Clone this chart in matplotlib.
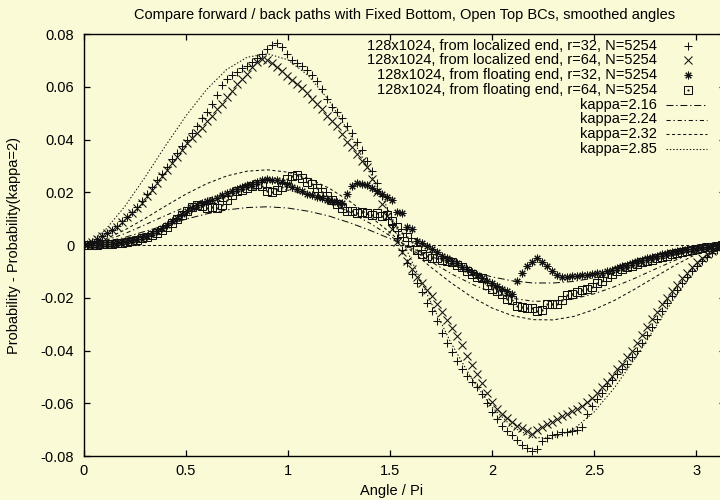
import numpy as np
import matplotlib
matplotlib.use('Agg')
import matplotlib.pyplot as plt
from matplotlib.lines import Line2D
from matplotlib.ticker import FuncFormatter

plt.rcParams['font.family'] = ['Liberation Sans', 'DejaVu Sans']
plt.rcParams['axes.unicode_minus'] = False
plt.rcParams['lines.scale_dashes'] = False

# 128 angle bins, values below in units of 1e-3
angle = (np.arange(128) + 0.5) * np.pi / 128

loc_r32 = [
    0.3, 1.2, 2.4, 3.4, 4.6, 5.8, 7.2, 9.0,
    10.8, 12.5, 14.5, 16.8, 19.5, 22, 24.5, 27,
    29.5, 32.5, 35, 37.5, 40, 42.5, 45, 48,
    50.5, 53.5, 57, 60.5, 63, 64.5, 65.5, 67,
    68, 69.5, 71, 72.5, 74.5, 76, 76.5, 75,
    72.5, 70, 69, 68, 66.5, 64.5, 62, 59,
    55.5, 52.5, 50.5, 48, 45, 42.5, 39, 36,
    32, 28, 23.5, 18.5, 13, 8, 2.5, -2,
    -7, -11, -14.5, -18, -22, -25, -29, -33.5,
    -37, -40.5, -44, -47, -49.5, -52, -54, -56.5,
    -60, -63.5, -66, -68.5, -70.5, -72, -74, -76,
    -77, -78, -77.5, -74.5, -73, -72, -71.5, -71,
    -71, -70.5, -70, -69, -64, -61, -58.5, -56,
    -53.5, -51, -49, -47, -45, -42.5, -40, -37,
    -34, -31, -28, -25, -22, -19.5, -17, -14.5,
    -12, -10, -8, -6, -4.5, -3, -1.8, -0.6,
]
loc_r64 = [
    0.3, 1.2, 2.3, 3.3, 4.4, 5.6, 7.0, 8.8,
    10.5, 12.2, 14.0, 16.0, 18.5, 21, 23.5, 26,
    28.5, 31, 33.5, 36, 38.5, 40.5, 42.5, 44.5,
    47, 49, 51.5, 53.5, 56, 58.5, 61, 63,
    65, 67.5, 69.5, 70.5, 70, 69, 67.5, 66,
    64, 62.5, 61, 59.5, 57.5, 55.5, 53.5, 51.5,
    49, 47, 45, 42, 39, 37, 34.5, 32,
    29.5, 25, 20, 15.5, 11, 6, 1, -2.5,
    -6, -9, -12, -14.5, -17, -19.5, -22.5, -25.5,
    -28.5, -31.5, -34.5, -38, -42, -45.5, -49, -52.5,
    -56, -59.5, -62, -64, -65.5, -67, -68.5, -69.5,
    -70.5, -71.5, -70, -69, -68, -67, -66, -65,
    -64, -63, -62, -61, -59.5, -58, -56, -54,
    -52, -49.5, -47, -45, -42.5, -40, -37, -34,
    -31, -28, -25.5, -22.5, -20, -17.5, -15, -12.5,
    -10.5, -8.5, -6.5, -5, -3.5, -2.2, -1.2, -0.4,
]
float_r32 = [
    0.0, 0.05, 0.1, 0.2, 0.3, 0.5, 0.7, 1.0,
    1.4, 1.8, 2.3, 2.9, 3.6, 4.4, 5.4, 6.5,
    7.7, 9.0, 10.3, 11.8, 13.0, 14.0, 15.0, 15.8,
    16.5, 17.2, 18.0, 18.8, 19.7, 20.6, 21.4, 22.0,
    22.6, 23.2, 23.8, 24.5, 25.0, 24.6, 24.8, 24.0,
    23.0, 22.0, 21.3, 20.4, 19.5, 18.8, 18.3, 17.8,
    17.2, 16.8, 16.4, 16.0, 19.5, 22.5, 23.5, 23.2,
    22.8, 21.8, 20.5, 19.5, 18.3, 17.2, 12.5, 12.0,
    7.0, 6.0, 1.5, 0.8, -0.5, -1.5, -2.8, -4.0,
    -5.0, -6.0, -7.0, -8.2, -9.2, -10.2, -11.5, -12.5,
    -13.5, -14.5, -15.5, -16.5, -17.5, -18.5, -13.5, -10.5,
    -8.0, -6.3, -5.0, -6.5, -8.0, -10.0, -11.5, -12.0,
    -12.0, -11.8, -11.6, -11.4, -11.2, -11.0, -10.8, -10.5,
    -10.0, -9.3, -8.6, -8.0, -7.4, -6.8, -6.2, -5.6,
    -5.0, -4.5, -4.0, -3.6, -3.2, -2.8, -2.4, -2.0,
    -1.7, -1.4, -1.1, -0.8, -0.6, -0.4, -0.2, -0.1,
]
float_r64 = [
    0.0, 0.05, 0.1, 0.2, 0.3, 0.4, 0.6, 0.9,
    1.2, 1.6, 2.0, 2.5, 3.1, 3.8, 4.7, 5.8,
    7.0, 8.5, 10.0, 11.5, 13.0, 14.5, 15.3, 14.8,
    14.2, 14.5, 14.0, 15.0, 17.0, 19.0, 20.5, 21.0,
    21.5, 22.5, 23.0, 22.5, 20.5, 20.0, 21.0, 22.0,
    25.0, 26.0, 26.5, 25.5, 24.0, 23.0, 21.5, 20.0,
    18.6, 17.0, 15.5, 14.0, 13.0, 13.0, 12.0, 12.5,
    12.0, 11.5, 12.0, 11.0, 11.5, 9.0, 7.0, 4.5,
    3.0, 1.0, -2.0, -3.5, -4.0, -4.8, -5.0, -5.5,
    -6.0, -6.5, -7.5, -8.5, -10.0, -11.0, -12.0, -12.5,
    -15.0, -16.5, -17.5, -18.5, -20.5, -21.0, -23.0, -23.5,
    -24.0, -24.0, -25.0, -24.5, -22.5, -22.5, -22.5, -21.0,
    -19.0, -18.5, -18.0, -17.0, -16.5, -16.0, -14.5, -13.5,
    -12.0, -11.0, -10.0, -9.0, -8.5, -8.0, -7.2, -6.6,
    -6.0, -5.5, -5.0, -4.5, -4.0, -3.6, -3.2, -2.8,
    -2.4, -2.0, -1.6, -1.2, -0.9, -0.6, -0.3, -0.1,
]

kappa_x = [0, 0.1, 0.2, 0.3, 0.4, 0.5, 0.6, 0.7, 0.8, 0.9, 1.0, 1.1, 1.2, 1.3, 1.4, 1.5,
           1.6, 1.7, 1.8, 1.9, 2.0, 2.1, 2.2, 2.3, 2.4, 2.5, 2.6, 2.7, 2.8, 2.9, 3.0, 3.1, 3.1416]
k216 = [0, .0011, .0029, .0052, .0075, .0098, .0118, .0133, .0142, .0145, .0140, .0128, .0110, .0085, .0056, .0024,
        -.0010, -.0043, -.0074, -.0100, -.0121, -.0136, -.0144, -.0144, -.0138, -.0125, -.0107, -.0085, -.0061, -.0038, -.0018, -.0003, 0]
k224 = [0, .0016, .0043, .0077, .0112, .0145, .0175, .0197, .0211, .0215, .0208, .0190, .0163, .0126, .0083, .0035,
        -.0015, -.0063, -.0109, -.0148, -.0180, -.0202, -.0213, -.0214, -.0204, -.0185, -.0158, -.0126, -.0091, -.0057, -.0026, -.0004, 0]
k232 = [0, .0021, .0057, .0101, .0148, .0193, .0232, .0262, .0280, .0285, .0276, .0252, .0216, .0167, .0110, .0047,
        -.0019, -.0084, -.0144, -.0197, -.0239, -.0268, -.0283, -.0284, -.0271, -.0245, -.0210, -.0167, -.0121, -.0075, -.0035, -.0006, 0]
k285 = [0, .0053, .0146, .0258, .0377, .0490, .0589, .0666, .0712, .0725, .0702, .0642, .0549, .0426, .0280, .0119,
        -.0050, -.0217, -.0373, -.0507, -.0615, -.0690, -.0730, -.0732, -.0698, -.0633, -.0541, -.0431, -.0312, -.0194, -.0090, -.0014, 0]

bg = '#fafad7'
ink = '#111111'
fs = 10.5

fig = plt.figure(figsize=(7.2, 5), dpi=100, facecolor=bg)
# right border sits just past the image edge, like the original
ax = fig.add_axes([84/720, 44/500, 641/720, 422/500], facecolor=bg)

mk = dict(linestyle='none', color=ink, mew=0.75)
series = [
    (loc_r32, '+', 5.5, '128x1024, from localized end, r=32, N=5254'),
    (loc_r64, 'x', 5.3, '128x1024, from localized end, r=64, N=5254'),
    (float_r32, (8, 2, 0), 5.5, '128x1024, from floating end, r=32, N=5254'),
    (float_r64, 's', 5.8, '128x1024, from floating end, r=64, N=5254'),
]
for vals, m, size, lab in series:
    y = np.array(vals) * 1e-3
    ax.plot(angle, y, marker=m, mfc='none', ms=size, **mk)
    if m == 's':
        ax.plot(angle, y, marker='.', linestyle='none', color=ink, ms=1.2)

curves = [
    (k216, (0, (5, 2, 1, 2)), 'kappa=2.16'),
    (k224, (0, (3, 2, 1, 2)), 'kappa=2.24'),
    (k232, (0, (2.2, 1.8)), 'kappa=2.32'),
    (k285, (0, (1, 1.4)), 'kappa=2.85'),
]
for vals, ls, lab in curves:
    ax.plot(kappa_x, vals, color=ink, lw=0.75, linestyle=ls)

ax.axhline(0, color=ink, lw=0.75, linestyle=(0, (2.2, 1.6)))

ax.set_xlim(0, np.pi)
ax.set_ylim(-0.08, 0.08)
ax.set_xticks([0, 0.5, 1, 1.5, 2, 2.5, 3])
ax.set_yticks(np.arange(-0.08, 0.081, 0.02))
fmt = FuncFormatter(lambda v, p: '%g' % round(v, 4))
ax.xaxis.set_major_formatter(fmt)
ax.yaxis.set_major_formatter(fmt)
ax.tick_params(direction='in', length=4.3, width=0.9, top=True, right=True,
               labelsize=fs, colors='black')
ax.tick_params(axis='y', pad=7)
ax.tick_params(axis='x', pad=6)
for s in ax.spines.values():
    s.set_linewidth(1.0)
    s.set_color('black')

fig.text(404.5/720, 1 - 15/500, 'Compare forward / back paths with Fixed Bottom, Open Top BCs, smoothed angles',
         ha='center', va='center', fontsize=fs)
fig.text(392/720, 1 - 491/500, 'Angle / Pi', ha='center', va='center', fontsize=fs)
fig.text(14/720, 1 - 245/500, 'Probability - Probability(kappa=2)', ha='center', va='center',
         rotation=90, fontsize=fs)

# key, drawn by hand so that the text is right aligned like gnuplot
W, H = 720.0, 500.0
for i, item in enumerate(series + curves):
    lab = item[-1]
    yy = 1 - (45.5 + 14.8 * i) / H
    fig.text(657/W, yy, lab, ha='right', va='center', fontsize=fs)
    if i < 4:
        m, size = item[1], item[2]
        fig.add_artist(Line2D([688/W], [yy], marker=m, mfc='none', ms=size, **mk))
        if m == 's':
            fig.add_artist(Line2D([688/W], [yy], marker='.', linestyle='none', color=ink, ms=1.2))
    else:
        fig.add_artist(Line2D([666/W, 707/W], [yy, yy], color=ink, lw=0.75, linestyle=item[1]))

fig.savefig('out.png', dpi=100, facecolor=bg)
